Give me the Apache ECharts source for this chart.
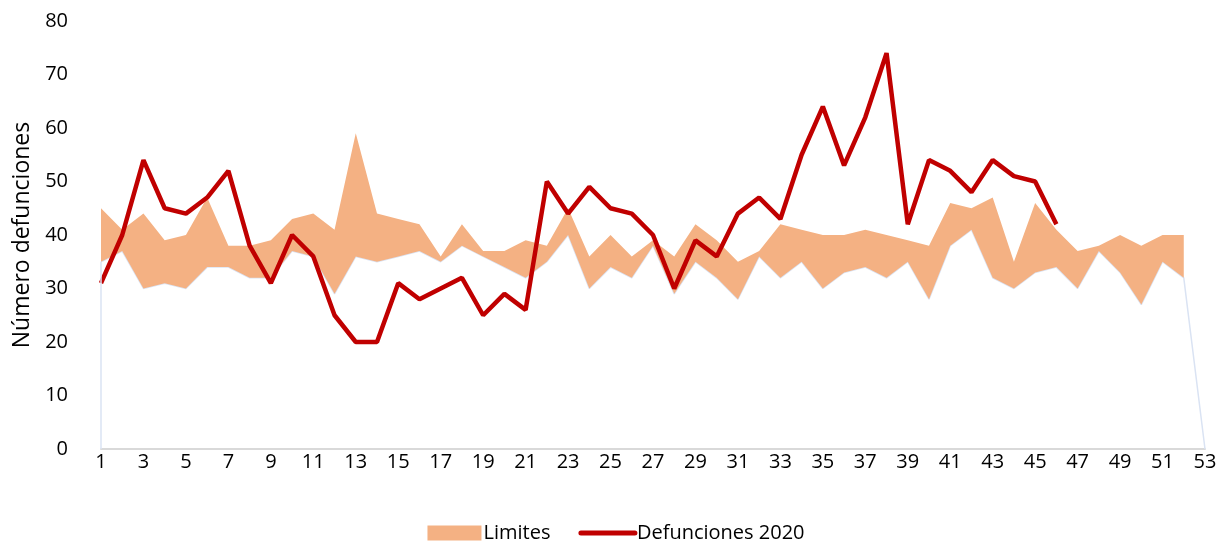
<!DOCTYPE html>
<html>
<head>
    <meta charset="utf-8">
    <title>Defunciones 2020</title>
    <script type="text/javascript" src="https://cdn.jsdelivr.net/npm/echarts@6/dist/echarts.min.js"></script>
    <style>
        html, body { margin: 0; padding: 0; background: #fff; }
    </style>
</head>
<body>
	<div id="main" style="height:546px; width:1232px;"></div>
	<script type="text/javascript">
	var weeks = [];
	for (var w = 1; w <= 53; w++) weeks.push(String(w));

	// limites inferior / superior por semana
	var lowerLimit = [35, 37, 30, 31, 30, 34, 34, 32, 32, 37, 36, 29, 36, 35, 36, 37, 35, 38, 36, 34,
	                  32, 35, 40, 30, 34, 32, 38, 29, 35, 32, 28, 36, 32, 35, 30, 33, 34, 32, 35, 28,
	                  38, 41, 32, 30, 33, 34, 30, 37, 33, 27, 35, 32, 0];
	var upperLimit = [45, 41, 44, 39, 40, 47, 38, 38, 39, 43, 44, 41, 59, 44, 43, 42, 36, 42, 37, 37,
	                  39, 38, 45, 36, 40, 36, 39, 36, 42, 39, 35, 37, 42, 41, 40, 40, 41, 40, 39, 38,
	                  46, 45, 47, 35, 46, 41, 37, 38, 40, 38, 40, 40, null];
	var deaths2020 = [31, 40, 54, 45, 44, 47, 52, 38, 31, 40, 36, 25, 20, 20, 31, 28, 30, 32, 25, 29,
	                  26, 50, 44, 49, 45, 44, 40, 30, 39, 36, 44, 47, 43, 55, 64, 53, 62, 74, 42, 54,
	                  52, 48, 54, 51, 50, 42];

	var band = upperLimit.map(function(v, k){
		return v == null ? null : v - lowerLimit[k];
	});

	var myChart = echarts.init(document.getElementById('main'));
	var font = 'Open Sans';
	var option = {
		animation: false,
		textStyle: {fontFamily: font},
		grid: {left: 101, right: 27, top: 21, bottom: 97},
		legend: {
			top: 518,
			left: 'center',
			itemGap: 28,
			itemWidth: 54,
			itemHeight: 15,
			textStyle: {fontSize: 20, color: '#000', fontFamily: font, padding: [0, 0, 0, -3]},
			data: [
				{name: 'Limites', icon: 'rect'},
				{name: 'Defunciones 2020', itemStyle: {opacity: 0}, lineStyle: {width: 5, cap: 'round'}}
			]
		},
		xAxis: {
			type: 'category',
			boundaryGap: false,
			data: weeks,
			axisLine: {lineStyle: {color: '#D9D9D9', width: 2}},
			axisTick: {show: false},
			axisLabel: {interval: 1, fontSize: 20, color: '#000', margin: 3, fontFamily: font},
			splitLine: {show: false}
		},
		yAxis: {
			type: 'value',
			min: 0,
			max: 80,
			interval: 10,
			name: 'Número defunciones',
			nameLocation: 'middle',
			nameGap: 66,
			nameTextStyle: {fontSize: 23, color: '#000', fontFamily: font},
			axisLine: {show: false},
			axisTick: {show: false},
			axisLabel: {fontSize: 20, color: '#000', margin: 33, fontFamily: font},
			splitLine: {show: false}
		},
		series: [
			{
				name: 'base',
				type: 'line',
				stack: 'lim',
				data: lowerLimit,
				symbol: 'none',
				lineStyle: {color: '#DAE3F3', width: 1.5},
				z: 1,
				markLine: {
					silent: true,
					symbol: 'none',
					label: {show: false},
					lineStyle: {color: '#DAE3F3', width: 1.5, type: 'solid'},
					data: [[{coord: [weeks[0], 0]}, {coord: [weeks[0], lowerLimit[0]]}]]
				}
			},
			{
				name: 'Limites',
				type: 'line',
				stack: 'lim',
				data: band,
				symbol: 'none',
				connectNulls: false,
				itemStyle: {color: '#F4B183'},
				lineStyle: {width: 0, color: '#F4B183'},
				areaStyle: {color: '#F4B183', opacity: 1},
				z: 2
			},
			{
				name: 'Defunciones 2020',
				type: 'line',
				data: deaths2020,
				symbol: 'none',
				itemStyle: {color: '#C00000'},
				lineStyle: {color: '#C00000', width: 4.5},
				z: 3
			}
		]
	};
	myChart.setOption(option);
	</script>
</body>
</html>
